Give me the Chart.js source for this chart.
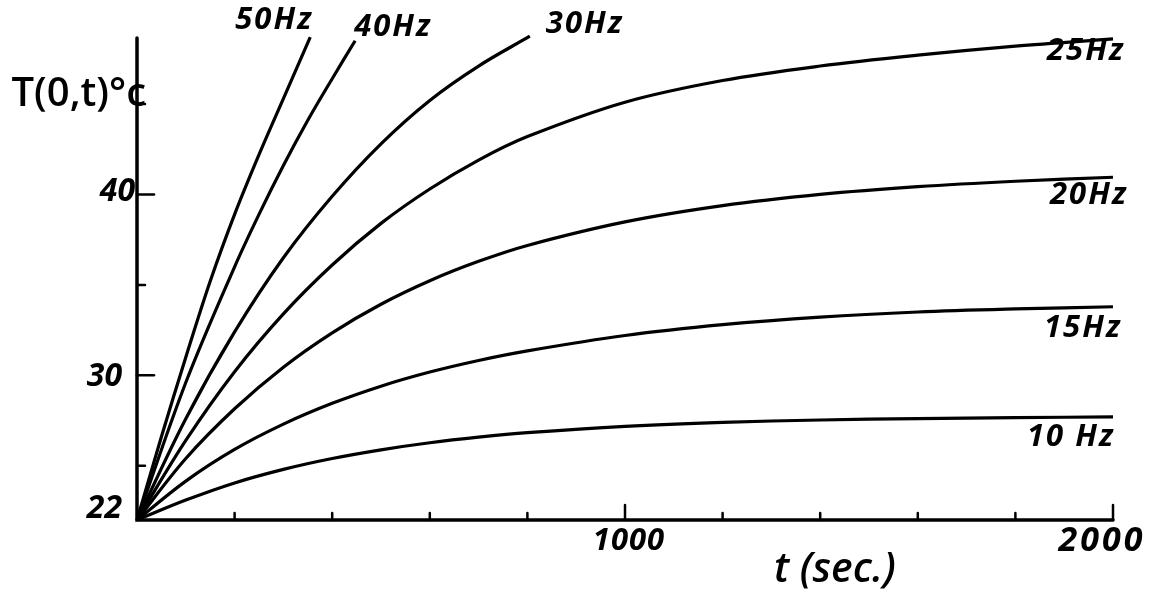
<!DOCTYPE html>
<html>
<head>
<meta charset="utf-8">
<script src="https://cdn.jsdelivr.net/npm/chart.js@4/dist/chart.umd.min.js"></script>
<style>
  html, body { margin: 0; padding: 0; background: #fff; }
  #c { display: block; }
</style>
</head>
<body>
<canvas id="c" width="1159" height="598"></canvas>
<script>
// Surface temperature T(0,t) in °C against time t in seconds, one curve per frequency.
const t50 = [0, 50, 100, 150, 200, 250, 300, 355];
const T50 = [22, 26.6, 31.0, 35.2, 38.9, 42.2, 45.3, 48.7];

const t40 = [0, 100, 200, 250, 300, 350, 400, 447];
const T40 = [22, 29.6, 36.0, 38.9, 41.6, 44.1, 46.4, 48.5];

const t30 = [0, 100, 200, 300, 400, 500, 600, 700, 805];
const T30 = [22, 27.6, 32.4, 36.5, 39.9, 42.8, 45.2, 47.1, 48.75];

const tLong = [0, 100, 200, 300, 400, 500, 600, 700, 800, 1000, 1200, 1400, 1600, 1800, 2000];
const T25 = [22, 26.4, 30.2, 33.4, 36.1, 38.4, 40.3, 41.9, 43.2, 45.1, 46.3, 47.1, 47.7, 48.2, 48.6];
const T20 = [22, 25.4, 28.15, 30.45, 32.35, 33.93, 35.23, 36.3, 37.18, 38.48, 39.38, 40.0, 40.43, 40.73, 40.95];
const T15 = [22, 24.15, 25.9, 27.3, 28.45, 29.4, 30.18, 30.82, 31.35, 32.2, 32.8, 33.22, 33.5, 33.67, 33.79];
const T10 = [22, 23.1, 24.05, 24.8, 25.4, 25.88, 26.27, 26.58, 26.83, 27.18, 27.4, 27.53, 27.61, 27.66, 27.7];

const curveNames = ['50Hz', '40Hz', '30Hz', '25Hz', '20Hz', '15Hz', '10 Hz'];

// Axis ticks and their printed labels
const xTickValues = [200, 400, 600, 800, 1000, 1200, 1400, 1600, 1800, 2000];
const xTickLabels = ['1000', '2000'];
const yTickValues = [25, 30, 35, 40, 45];
const yTickLabels = ['22', '30', '40'];

const yMin = 22, yMax = 48.65, xMin = 0, xMax = 2000;

const pairs = (ts, vs) => ts.map((t, i) => ({ x: t, y: vs[i] }));
const curves = [
  pairs(t50, T50), pairs(t40, T40), pairs(t30, T30),
  pairs(tLong, T25), pairs(tLong, T20), pairs(tLong, T15), pairs(tLong, T10)
];

const INK = '#000';
const HAND = '"Open Sans", "Lato", sans-serif';

// where each curve name sits relative to the curve's last point (px offsets, text alignment)
const nameStyle = [
  { dx: 3,   dy: -17, align: 'right' },
  { dx: -1,  dy: -14, align: 'left'  },
  { dx: 16,  dy: -12, align: 'left'  },
  { dx: 12,  dy: 12,  align: 'right' },
  { dx: 15,  dy: 18,  align: 'right' },
  { dx: 9,   dy: 21,  align: 'right' },
  { dx: 2,   dy: 20,  align: 'right' }
];

const handAxes = {
  id: 'handAxes',
  afterDatasetsDraw(chart) {
    const ctx = chart.ctx;
    const xs = chart.scales.x, ys = chart.scales.y;
    const x0 = xs.getPixelForValue(xMin);
    const x1 = xs.getPixelForValue(xMax);
    const y0 = ys.getPixelForValue(yMin);
    const yTop = ys.getPixelForValue(yMax);
    ctx.save();
    ctx.strokeStyle = INK;
    ctx.fillStyle = INK;
    ctx.lineCap = 'round';

    // axis lines
    ctx.lineWidth = 3.5;
    ctx.beginPath();
    ctx.moveTo(x0, yTop);
    ctx.lineTo(x0, y0);
    ctx.lineTo(x1, y0);
    ctx.stroke();

    // tick marks, drawn into the plot
    ctx.lineWidth = 2.5;
    yTickValues.forEach(v => {
      const y = ys.getPixelForValue(v);
      const len = (v % 10 === 0) ? 17 : 8;
      ctx.beginPath();
      ctx.moveTo(x0, y);
      ctx.lineTo(x0 + len, y);
      ctx.stroke();
    });
    xTickValues.forEach(v => {
      const x = xs.getPixelForValue(v);
      const len = (v % 1000 === 0) ? 15 : 7;
      ctx.beginPath();
      ctx.moveTo(x, y0);
      ctx.lineTo(x, y0 - len);
      ctx.stroke();
    });

    // y tick labels
    ctx.font = 'italic 700 32px ' + HAND;
    ctx.textBaseline = 'middle';
    ctx.textAlign = 'right';
    yTickLabels.forEach(s => {
      const v = Number(s);
      const y = ys.getPixelForValue(v);
      const gap = (v === 40) ? 2 : 15;
      const lift = (v === 22) ? -11 : (v === 40 ? -3 : 2);
      ctx.fillText(s, x0 - gap, y + lift);
    });

    // x tick labels
    ctx.textAlign = 'center';
    xTickLabels.forEach(s => {
      const v = Number(s);
      const big = v === 2000;
      ctx.font = 'italic 700 ' + (big ? 34 : 31) + 'px ' + HAND;
      ctx.letterSpacing = big ? '3px' : '1px';
      ctx.fillText(s, xs.getPixelForValue(v) + (big ? -11 : 4), y0 + 21);
    });
    ctx.letterSpacing = '0px';

    // axis titles
    ctx.font = 'italic 600 41px ' + HAND;
    ctx.textAlign = 'center';
    ctx.fillText('t (sec.)', xs.getPixelForValue(1430), y0 + 50);
    ctx.font = '600 40px ' + HAND;
    ctx.textAlign = 'right';
    ctx.fillText('T(0,t)\u00B0c', x0 + 9, ys.getPixelForValue(45) - 9);

    // curve names at the end of each curve
    ctx.font = 'italic 700 31px ' + HAND;
    ctx.letterSpacing = '2px';
    curves.forEach((pts, i) => {
      const last = pts[pts.length - 1];
      const st = nameStyle[i];
      ctx.textAlign = st.align;
      ctx.fillText(curveNames[i],
        xs.getPixelForValue(last.x) + st.dx,
        ys.getPixelForValue(last.y) + st.dy);
    });
    ctx.restore();
  }
};

new Chart(document.getElementById('c'), {
  type: 'line',
  data: {
    datasets: curves.map((pts, i) => ({
      label: curveNames[i],
      data: pts,
      borderColor: INK,
      borderWidth: 3.2,
      pointRadius: 0,
      fill: false,
      clip: false,
      tension: 0.35
    }))
  },
  options: {
    responsive: false,
    animation: false,
    devicePixelRatio: 1,
    layout: { padding: { left: 137, right: 46, top: 38, bottom: 78 } },
    plugins: { legend: { display: false }, tooltip: { enabled: false } },
    scales: {
      x: { type: 'linear', min: xMin, max: xMax, display: false },
      y: { type: 'linear', min: yMin, max: yMax, display: false }
    }
  },
  plugins: [handAxes]
});
</script>
</body>
</html>
